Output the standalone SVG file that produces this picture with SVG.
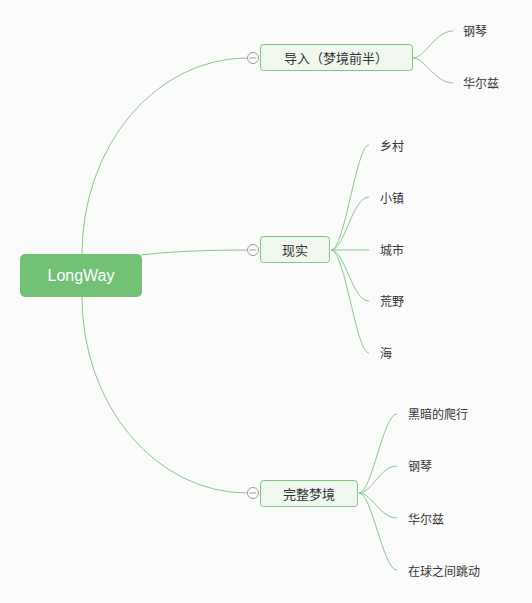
<svg xmlns="http://www.w3.org/2000/svg" width="532" height="603" viewBox="0 0 532 603">
<style>
.bg{fill:#fbfbfb}
.line{fill:none;stroke:#86c887;stroke-width:1}
.root{fill:#73c175}
.node{fill:#f0f7ef;stroke:#7ec780;stroke-width:1}
.rt{font-family:"Liberation Sans","Noto Sans",sans-serif;font-size:16px;fill:#fff;text-anchor:middle;dominant-baseline:central}
.nt{font-family:"Noto Sans CJK SC",sans-serif;font-size:13px;fill:#333;text-anchor:middle;dominant-baseline:central}
.lt{font-family:"Noto Sans CJK SC",sans-serif;font-size:12px;fill:#333;dominant-baseline:central}
.tog{fill:#fff;stroke:#999;stroke-width:1}
</style>
<rect class="bg" x="0" y="0" width="532" height="603"/>
<g id="connectors">
<path class="line" d="M82 254 A165 196 0 0 1 247 58"/>
<path class="line" d="M141 255 Q180 250 247 250"/>
<path class="line" d="M82 297 A165 196 0 0 0 247 493"/>
<path class="line" d="M413 58 C425 58 435 31 453 31"/>
<path class="line" d="M413 58 C425 58 435 83 453 83"/>
<path class="line" d="M331 250 C345 250 356 145 369 145"/>
<path class="line" d="M331 250 C345 250 352 197 369 197"/>
<path class="line" d="M331 250 L369 250"/>
<path class="line" d="M331 250 C345 250 352 301 369 301"/>
<path class="line" d="M331 250 C345 250 356 353 369 353"/>
<path class="line" d="M359 493 C372 493 383 414 397 414"/>
<path class="line" d="M359 493 C372 493 380 466 397 466"/>
<path class="line" d="M359 493 C372 493 380 518 397 518"/>
<path class="line" d="M359 493 C372 493 383 570 397 570"/>
</g>
<g id="root">
<rect class="root" x="20" y="254" width="122" height="43" rx="5"/>
<text class="rt" x="81" y="275.5">LongWay</text>
</g>
<g id="n1">
<rect class="node" x="260.5" y="44.5" width="152" height="26" rx="3"/>
<text class="nt" x="336" y="57.5">导入（梦境前半）</text>
<circle class="tog" cx="253" cy="58" r="5.5"/>
<line x1="249.5" y1="58" x2="256.5" y2="58" stroke="#999"/>
</g>
<g id="n2">
<rect class="node" x="260.5" y="236.5" width="69" height="26" rx="3"/>
<text class="nt" x="295" y="249.5">现实</text>
<circle class="tog" cx="253" cy="250" r="5.5"/>
<line x1="249.5" y1="250" x2="256.5" y2="250" stroke="#999"/>
</g>
<g id="n3">
<rect class="node" x="260.5" y="480.5" width="97" height="26" rx="3"/>
<text class="nt" x="309" y="493.5">完整梦境</text>
<circle class="tog" cx="253" cy="493" r="5.5"/>
<line x1="249.5" y1="493" x2="256.5" y2="493" stroke="#999"/>
</g>
<g id="l1a"><text class="lt" x="463" y="30">钢琴</text></g>
<g id="l1b"><text class="lt" x="463" y="82">华尔兹</text></g>
<g id="l2a"><text class="lt" x="380" y="145">乡村</text></g>
<g id="l2b"><text class="lt" x="380" y="197">小镇</text></g>
<g id="l2c"><text class="lt" x="380" y="249">城市</text></g>
<g id="l2d"><text class="lt" x="380" y="300">荒野</text></g>
<g id="l2e"><text class="lt" x="380" y="352">海</text></g>
<g id="l3a"><text class="lt" x="408" y="413">黑暗的爬行</text></g>
<g id="l3b"><text class="lt" x="408" y="465">钢琴</text></g>
<g id="l3c"><text class="lt" x="408" y="518">华尔兹</text></g>
<g id="l3d"><text class="lt" x="408" y="570">在球之间跳动</text></g>
</svg>
